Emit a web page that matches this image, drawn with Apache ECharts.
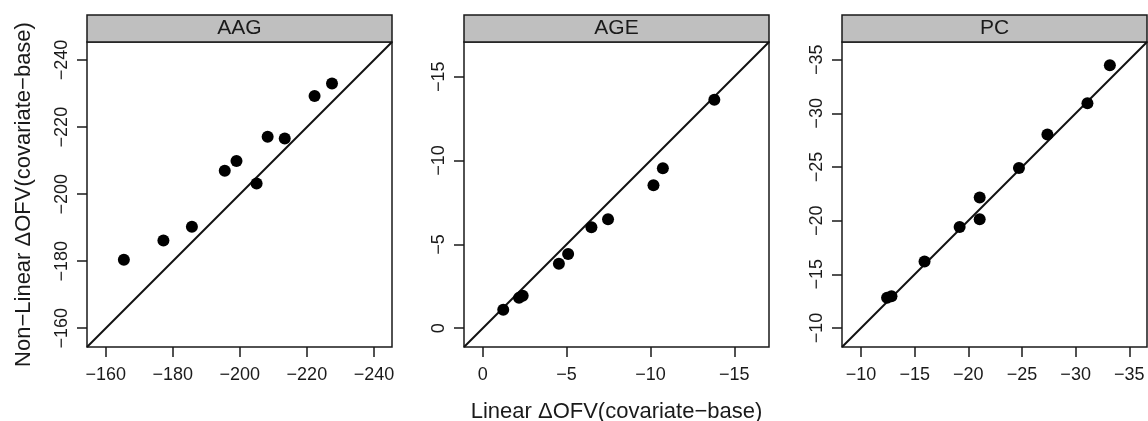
<!DOCTYPE html>
<html>
<head>
<meta charset="utf-8">
<script src="https://cdn.jsdelivr.net/npm/echarts@6/dist/echarts.min.js"></script>
<style>
  html, body { margin: 0; padding: 0; background: #fff; }
  #chart { width: 1148px; height: 421px; }
</style>
</head>
<body>
<div id="chart"></div>
<script>
// panel names
const panels = ['AAG', 'AGE', 'PC']

// Linear ΔOFV (x) and Non-Linear ΔOFV (y) per covariate
const aagLinear = [-165.4, -177.2, -185.7, -195.5, -199.0, -205.0, -208.3, -213.4, -222.3, -227.5]
const aagNonLinear = [-180.4, -186.2, -190.3, -207.0, -209.9, -203.2, -217.1, -216.6, -229.3, -233.0]
const ageLinear = [-1.22, -2.16, -2.38, -4.54, -5.09, -6.48, -7.47, -10.18, -10.74, -13.81]
const ageNonLinear = [-1.10, -1.81, -1.93, -3.84, -4.43, -6.02, -6.50, -8.52, -9.54, -13.63]
const pcLinear = [-12.43, -12.84, -15.92, -19.19, -21.06, -21.06, -24.72, -27.37, -31.10, -33.19]
const pcNonLinear = [-12.83, -12.95, -16.19, -19.41, -20.13, -22.15, -24.91, -28.02, -30.94, -34.48]

// axis limits (same for x and y in each panel)
const aagRange = [-245.4, -154.4]
const ageRange = [-17.07, 1.12]
const pcRange = [-36.65, -8.23]

// tick values
const aagTicks = [-240, -220, -200, -180, -160]
const ageTicks = [-15, -10, -5, 0]
const pcTicks = [-35, -30, -25, -20, -15, -10]

const xs = [aagLinear, ageLinear, pcLinear]
const ys = [aagNonLinear, ageNonLinear, pcNonLinear]
const ranges = [aagRange, ageRange, pcRange]
const ticks = [aagTicks, ageTicks, pcTicks]

// layout
const panelLeft = [87, 464, 842]
const panelWidth = 305
const panelTop = 42
const panelHeight = 305
const stripHeight = 27

const FONT = 'Liberation Sans, Arial, sans-serif'
const fmt = v => String(v).replace('-', '\u2212')

const chart = echarts.init(document.getElementById('chart'))

const grid = [], xAxis = [], yAxis = [], series = [], graphic = []

panels.forEach((name, i) => {
  const [lo, hi] = ranges[i]
  grid.push({
    left: panelLeft[i], top: panelTop, width: panelWidth, height: panelHeight,
    outerBoundsMode: 'none', containLabel: false,
    show: true, borderColor: '#1a1a1a', borderWidth: 1.5, backgroundColor: '#fff'
  })
  const common = {
    type: 'value', gridIndex: i, min: lo, max: hi,
    splitLine: { show: false },
    axisLine: { show: false, onZero: false },
    axisTick: { show: true, length: 10, customValues: ticks[i], lineStyle: { color: '#1a1a1a', width: 1.5 } },
    axisLabel: {
      customValues: ticks[i], formatter: fmt,
      color: '#1a1a1a', fontSize: 18, fontFamily: FONT
    }
  }
  xAxis.push(Object.assign({}, common, {
    inverse: true,
    axisLabel: Object.assign({}, common.axisLabel, { margin: 19 }),
    name: i === 1 ? 'Linear \u0394OFV(covariate\u2212base)' : '',
    nameLocation: 'middle', nameGap: 54,
    nameTextStyle: { color: '#1a1a1a', fontSize: 22, fontFamily: FONT }
  }))
  yAxis.push(Object.assign({}, common, {
    inverse: true,
    axisLabel: Object.assign({}, common.axisLabel, { rotate: 90, margin: 16 }),
    name: i === 0 ? 'Non\u2212Linear \u0394OFV(covariate\u2212base)' : '',
    nameLocation: 'middle', nameGap: 52, nameRotate: 90,
    nameTextStyle: { color: '#1a1a1a', fontSize: 22, fontFamily: FONT }
  }))
  // identity line
  series.push({
    type: 'line', xAxisIndex: i, yAxisIndex: i,
    data: [[lo, lo], [hi, hi]], symbol: 'none', silent: true,
    lineStyle: { color: '#111', width: 2 }, z: 2
  })
  series.push({
    type: 'scatter', xAxisIndex: i, yAxisIndex: i,
    data: xs[i].map((x, k) => [x, ys[i][k]]),
    symbolSize: 12, itemStyle: { color: '#000', opacity: 1 }, z: 3
  })
  // strip header
  graphic.push({
    type: 'rect',
    shape: { x: panelLeft[i], y: panelTop - stripHeight, width: panelWidth, height: stripHeight },
    style: { fill: '#bfbfbf', stroke: '#1a1a1a', lineWidth: 1.5 }
  })
  graphic.push({
    type: 'text',
    x: panelLeft[i] + panelWidth / 2, y: panelTop - stripHeight / 2,
    style: {
      text: name, fill: '#1a1a1a', font: '21px ' + FONT,
      textAlign: 'center', textVerticalAlign: 'middle'
    }
  })
})

chart.setOption({
  animation: false,
  grid, xAxis, yAxis, series, graphic
})
</script>
</body>
</html>
